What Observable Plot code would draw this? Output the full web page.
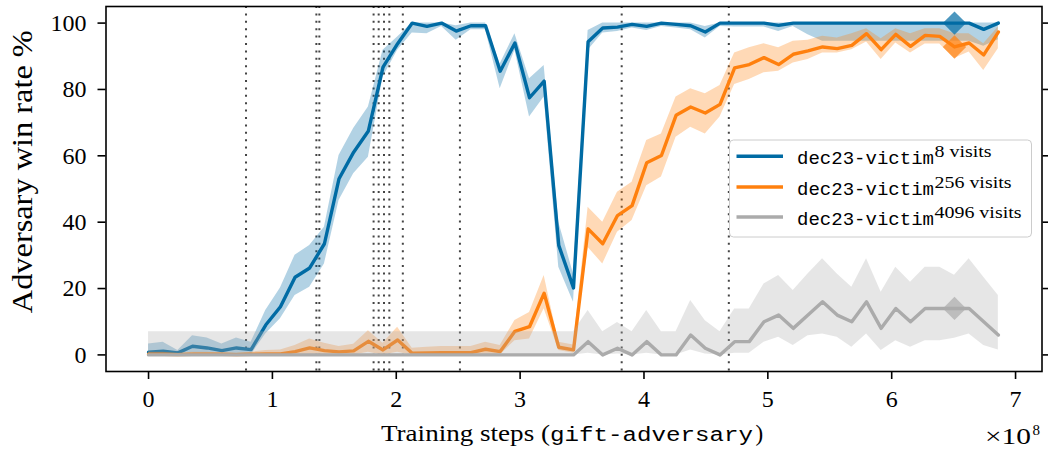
<!DOCTYPE html>
<html>
<head>
<meta charset="utf-8">
<script src="https://cdn.jsdelivr.net/npm/d3@7"></script>
<script src="https://cdn.jsdelivr.net/npm/@observablehq/plot@0.6"></script>
<style>
  html, body { margin: 0; padding: 0; background: #fff; }
  #chart svg { display: block; }
</style>
</head>
<body>
<div id="chart"></div>
<script>
// ---------- data (x in units of 1e8 training steps, y in %) ----------
const steps = [0,0.118,0.237,0.355,0.473,0.592,0.710,0.828,0.946,1.065,1.183,1.301,1.420,1.538,1.656,1.775,1.893,2.011,2.129,2.248,2.366,2.484,2.603,2.721,2.839,2.958,3.076,3.194,3.312,3.431,3.549,3.667,3.786,3.904,4.022,4.141,4.259,4.377,4.495,4.614,4.732,4.850,4.969,5.087,5.205,5.324,5.442,5.560,5.678,5.797,5.915,6.033,6.152,6.270,6.388,6.507,6.625,6.743,6.861];

const win8   = [0.8,1.1,0.6,2.6,2.1,1.3,2.1,1.6,9.0,14.5, 23.4,26.2,33.5,53.1,61.1,67.5,86.7,93.8,100,99.0, 100,97.6,99.2,99.2,85.5,94.0,77.5,82.5,33.0,20.2, 94.4,98.5,98.8,99.6,99.0,100,99.6,99.2,97.3,100, 100,100,100,99.3,100,100,100,100,100,100, 100,100,100,100,100,100,100,98.1,100];
const win8Lo = [0,0,0,0.5,0,0,0,0,6.3,10.9, 17.9,20.4,27.4,46.5,54.6,59.6,83.7,91.8,97,96.8, 99,94.8,98,98,80.2,91.8,71.7,77.7,26.4,15.9, 91.8,97,97.5,98.5,97.8,99,98.5,98,95.5,99, 98.8,98.8,98.8,97.5,99,96.5,94.5,94.5,94.5,94.5, 94.5,94.5,94.5,94.5,94.5,94.5,94.5,93.0,95];
const win8Hi = [3.3,3.8,1.3,5.8,5.1,3.3,5.1,3.8,13.4,20.2, 30,33,38.5,60.1,68.2,74.7,91.8,95.8,100,100, 100,99.2,100,100,87.7,96.8,83.2,87.2,40,24.4, 97.8,100,100,100,100,100,100,100,99,100, 100,100,100,100,100,100,100,100,100,100, 100,100,100,100,100,100,100,100,100];

const win256   = [0.2,0.2,0.1,0.2,0.2,0.2,0.1,0.2,0.3,0.3, 1.0,2.1,1.3,0.9,1.2,4.1,1.5,4.5,0.5,0.6, 0.7,0.7,0.7,1.7,1.0,7.1,8.5,18.6,2.3,1.5, 38.0,33.5,42.0,45.0,57.9,60.1,72.2,74.7,72.9,75.5, 86.5,87.5,89.6,87.5,90.6,91.6,92.8,92.3,93.3,96.8, 92.0,96.6,93.0,96.3,96.0,92.8,94.0,90.4,97.3];
const win256Lo = [0,0,0,0,0,0,0,0,0,0, 0,0,0,0,0,0.8,0,0.8,0,0, 0,0,0,0,0,4.3,4.8,13.9,1.3,0.5, 32.4,27.4,37,40.5,51,53.6,65.6,68.6,66.6,71.7, 81.5,83,85,85.5,88,89,91,91,92,94.3, 89,94,91,93.7,93.7,89.3,91.3,85.7,92.3];
const win256Hi = [0.8,0.8,0.5,0.8,0.8,0.6,0.6,0.8,1.3,1.5, 2.8,4.8,3.5,2.5,3.2,7.3,3.5,8.3,2.0,2.3, 2.5,2.5,2.5,3.8,2.8,10.4,12.8,23.9,3.8,3.0, 44.5,40,49,52,64.6,66.6,77.7,80.2,78.7,81.2, 91,92.6,93.8,92.6,94.5,94.8,96,95.5,96.8,98.3, 95.3,98.3,96.8,98.3,98.3,96.8,96.8,93.8,98.8];

const win4096   = [0,0,0,0,0,0,0,0,0,0, 0,0,0,0,0,0,0,0,0,0, 0,0,0,0,0,0,0,0,0,0, 4,0,2,0,4,0,0,6,2,0, 4,4,10,12,8,12,16,12,10,16, 8,14,10,14,14,14,14,10,6];
const win4096Lo = [0,0,0,0,0,0,0,0,0,0, 0,0,0,0,0,0,0,0,0,0, 0,0,0,0,0,0,0,0,0,0, 0.5,0,0.3,0,0.5,0,0,1.5,0.3,0, 0.5,0.5,3.8,5.3,2.8,5.8,6.3,5.3,2.3,6.3, 1.3,4.3,2.3,4.3,4.3,5.0,6.3,2.8,1.5];
const win4096Hi = [7,7,7,7,7,7,7,7,7,7, 7,7,7,7,7,7,7,7,7,7, 7,7,7,7,7,7,7,7,7,7, 13.4,7,9.8,7,13.4,7,7,16.4,10.3,7, 13.8,13.8,21.4,23.9,19.4,24.4,29,24.4,20.4,29, 18.9,26.4,21.9,26.4,26.4,24,29,23.4,17.9];

const checkpointLines = [0.787,1.355,1.379,1.817,1.858,1.901,1.944,2.053,2.514,3.820,4.685];
const highlightIndex = 55;

const xTicks = [0,1,2,3,4,5,6,7];
const yTicks = [0,20,40,60,80,100];
const victimName = "dec23-victim";
const visitLabels = ["8 visits", "256 visits", "4096 visits"];
const colors = ["#006BA4", "#FF800E", "#ABABAB"];

// ---------- build tables ----------
const seriesData = [
  [win8, win8Lo, win8Hi],
  [win256, win256Lo, win256Hi],
  [win4096, win4096Lo, win4096Hi]
].map(([v, lo, hi]) => steps.map((x, i) => ({x, y: v[i], lo: lo[i], hi: hi[i]})));

const SERIF = "'Liberation Serif', 'Times New Roman', serif";
const MONO = "'Liberation Mono', 'DejaVu Sans Mono', monospace";

const plot = Plot.plot({
  width: 1048,
  height: 455,
  marginLeft: 105.5,
  marginRight: 6.5,
  marginTop: 6,
  marginBottom: 84,
  x: {domain: [-0.3435, 7.2135]},
  y: {domain: [-5, 105]},
  style: {fontFamily: SERIF, fontSize: "24px", color: "#000", background: "#fff"},
  marks: [
    Plot.ruleX(checkpointLines, {stroke: "#444444", strokeWidth: 2, strokeDasharray: "2,5.4", strokeLinecap: "butt"}),
    ...seriesData.flatMap((t, k) => [
      Plot.areaY(t, {x: "x", y1: "lo", y2: "hi", fill: colors[k], fillOpacity: 0.3}),
      Plot.lineY(t, {x: "x", y: "y", stroke: colors[k], strokeWidth: 3.4})
    ]),
    ...seriesData.map((t, k) => Plot.dot([t[highlightIndex]], {x: "x", y: "y", symbol: "diamond2", r: 10.5, fill: colors[k], fillOpacity: 0.7, stroke: "none"})),
    Plot.frame({stroke: "#000", strokeWidth: 1.6}),
    Plot.axisX({ticks: xTicks, tickSize: 8, tickPadding: 10.5, tickFormat: d => String(d), label: null, strokeWidth: 1.6, fontSize: 24}),
    Plot.axisY({ticks: yTicks, tickSize: 8, tickPadding: 11.5, tickFormat: d => String(d), label: null, strokeWidth: 1.6, fontSize: 24}),
    Plot.axisY({anchor: "right", ticks: yTicks, tickSize: 7, tickFormat: () => "", label: null, strokeWidth: 1.6})
  ]
});

document.getElementById("chart").appendChild(plot);

// ---------- axis labels, offset text and legend ----------
const svg = d3.select(plot);
const g = svg.append("g").attr("fill", "#000").attr("text-anchor", "start");

// y label
g.append("text")
  .attr("transform", "translate(32,171.7) rotate(-90)")
  .attr("text-anchor", "middle")
  .attr("font-family", SERIF).attr("font-size", 29)
  .attr("textLength", 283).attr("lengthAdjust", "spacingAndGlyphs")
  .text("Adversary win rate %");

// x label (serif + typewriter)
g.append("text").attr("x", 381).attr("y", 441).attr("text-anchor", "start")
  .attr("font-family", SERIF).attr("font-size", 23)
  .attr("textLength", 169).attr("lengthAdjust", "spacingAndGlyphs")
  .text("Training steps (");
g.append("text").attr("x", 550).attr("y", 441).attr("text-anchor", "start")
  .attr("font-family", MONO).attr("font-size", 20)
  .attr("textLength", 203).attr("lengthAdjust", "spacingAndGlyphs")
  .text("gift-adversary");
g.append("text").attr("x", 755.5).attr("y", 441).attr("text-anchor", "start")
  .attr("font-family", SERIF).attr("font-size", 23)
  .text(")");

// offset text ×10^8
g.append("text").attr("x", 985).attr("y", 444).attr("text-anchor", "start")
  .attr("font-family", SERIF).attr("font-size", 23)
  .attr("textLength", 46).attr("lengthAdjust", "spacingAndGlyphs")
  .text("×10");
g.append("text").attr("x", 1032.5).attr("y", 435).attr("text-anchor", "start")
  .attr("font-family", SERIF).attr("font-size", 15)
  .text("8");

// legend
const lg = svg.append("g").attr("text-anchor", "start");
lg.append("rect")
  .attr("x", 729.5).attr("y", 140).attr("width", 302).attr("height", 97)
  .attr("rx", 4).attr("ry", 4)
  .attr("fill", "#fff").attr("fill-opacity", 0.8)
  .attr("stroke", "#cccccc").attr("stroke-width", 1);
const legendY = [156.3, 187, 217];
const supLengths = [57, 77, 87];
visitLabels.forEach((lab, k) => {
  const y = legendY[k];
  lg.append("line").attr("x1", 736.5).attr("x2", 783).attr("y1", y).attr("y2", y)
    .attr("stroke", colors[k]).attr("stroke-width", 3.4);
  lg.append("text").attr("x", 797).attr("y", y + 7.5).attr("text-anchor", "start")
    .attr("font-family", MONO).attr("font-size", 19)
    .attr("textLength", 137).attr("lengthAdjust", "spacingAndGlyphs")
    .text(victimName);
  lg.append("text").attr("x", 934.5).attr("y", y + 0.8).attr("text-anchor", "start")
    .attr("font-family", SERIF).attr("font-size", 17)
    .attr("textLength", supLengths[k]).attr("lengthAdjust", "spacingAndGlyphs")
    .text(lab);
});
</script>
</body>
</html>
